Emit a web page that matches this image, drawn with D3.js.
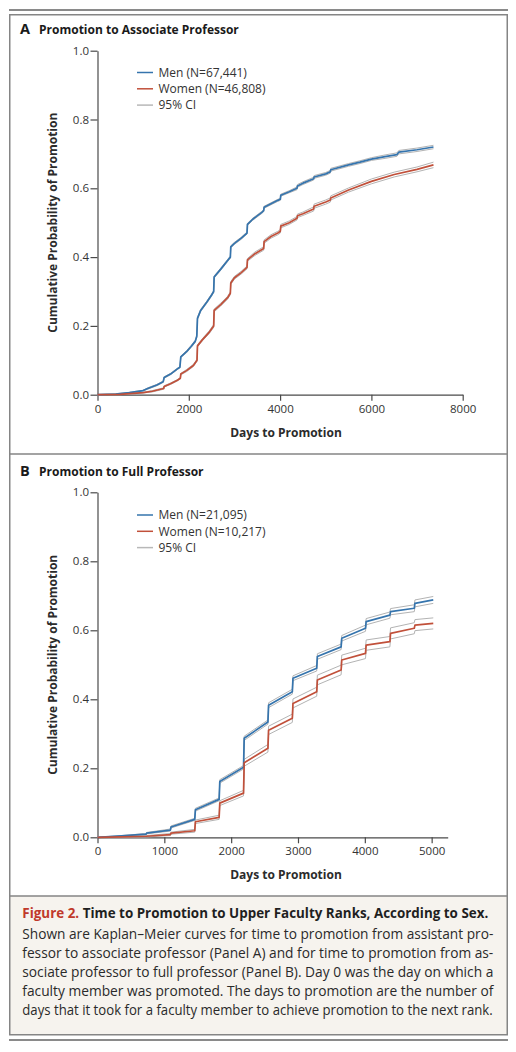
<!DOCTYPE html>
<html><head><meta charset="utf-8">
<script src="https://cdn.jsdelivr.net/npm/d3@7"></script>
<style>html,body{margin:0;padding:0;background:#fff;}svg{display:block;}</style>
</head><body>
<svg id="c" width="516" height="1052"></svg>
<script>
// ---- Data ----
// Each point: [days, cumulative probability, 95% CI half-width]
const menA = [[0,0,0],[400,0.002,0.001],[700,0.006,0.001],[1000,0.012,0.001],[1100,0.018,0.002],[1300,0.028,0.002],[1440,0.038,0.002],[1460,0.05,0.002],[1600,0.06,0.002],[1750,0.075,0.002],[1805,0.08,0.002],[1825,0.11,0.002],[1950,0.125,0.003],[2050,0.14,0.003],[2140,0.155,0.003],[2175,0.17,0.003],[2190,0.222,0.003],[2260,0.245,0.003],[2400,0.27,0.003],[2500,0.29,0.003],[2545,0.3,0.003],[2555,0.342,0.003],[2700,0.365,0.003],[2850,0.39,0.003],[2910,0.40,0.003],[2920,0.43,0.003],[3000,0.44,0.003],[3150,0.455,0.003],[3275,0.47,0.003],[3285,0.495,0.003],[3400,0.51,0.003],[3600,0.53,0.003],[3640,0.535,0.003],[3650,0.545,0.003],[3800,0.555,0.003],[3950,0.565,0.003],[4005,0.568,0.003],[4015,0.58,0.003],[4200,0.59,0.003],[4370,0.6,0.004],[4380,0.607,0.004],[4500,0.615,0.004],[4735,0.628,0.004],[4745,0.633,0.004],[5000,0.642,0.004],[5100,0.648,0.004],[5110,0.654,0.004],[5500,0.668,0.004],[5750,0.676,0.004],[6000,0.685,0.004],[6300,0.692,0.005],[6560,0.698,0.005],[6600,0.705,0.005],[7000,0.712,0.005],[7360,0.72,0.005]];
const womenA = [[0,0,0],[500,0.001,0.001],[1000,0.006,0.001],[1200,0.01,0.002],[1450,0.018,0.002],[1460,0.024,0.002],[1600,0.032,0.002],[1750,0.042,0.002],[1815,0.048,0.002],[1825,0.06,0.002],[1950,0.07,0.003],[2100,0.085,0.003],[2180,0.1,0.003],[2190,0.142,0.003],[2300,0.16,0.003],[2450,0.182,0.004],[2545,0.2,0.004],[2555,0.245,0.004],[2700,0.262,0.004],[2850,0.282,0.004],[2910,0.295,0.004],[2920,0.325,0.004],[3000,0.34,0.004],[3150,0.355,0.004],[3275,0.37,0.004],[3285,0.392,0.004],[3450,0.41,0.005],[3640,0.425,0.005],[3650,0.445,0.005],[3800,0.46,0.005],[3950,0.47,0.005],[4005,0.475,0.005],[4015,0.49,0.005],[4200,0.5,0.005],[4370,0.513,0.005],[4380,0.52,0.005],[4500,0.526,0.005],[4735,0.54,0.006],[4745,0.548,0.006],[5000,0.56,0.006],[5100,0.566,0.006],[5110,0.572,0.006],[5500,0.595,0.006],[6000,0.62,0.007],[6500,0.64,0.007],[7000,0.655,0.007],[7360,0.668,0.008]];
const menB = [[0,0,0],[360,0.004,0.001],[725,0.009,0.002],[735,0.012,0.002],[1090,0.021,0.003],[1100,0.03,0.003],[1455,0.052,0.003],[1465,0.08,0.004],[1820,0.11,0.004],[1830,0.162,0.005],[2185,0.203,0.005],[2195,0.287,0.006],[2550,0.334,0.006],[2560,0.383,0.007],[2915,0.422,0.007],[2925,0.461,0.007],[3280,0.49,0.008],[3290,0.524,0.008],[3645,0.552,0.008],[3655,0.577,0.008],[4010,0.606,0.009],[4020,0.625,0.009],[4375,0.644,0.009],[4385,0.654,0.009],[4740,0.664,0.01],[4750,0.678,0.01],[5024,0.688,0.01]];
const womenB = [[0,0,0],[365,0.001,0.001],[730,0.003,0.002],[1090,0.008,0.003],[1100,0.012,0.003],[1455,0.019,0.004],[1465,0.045,0.005],[1820,0.058,0.006],[1830,0.099,0.007],[2185,0.128,0.008],[2195,0.216,0.01],[2550,0.258,0.011],[2560,0.31,0.012],[2915,0.345,0.012],[2925,0.388,0.013],[3280,0.422,0.013],[3290,0.456,0.014],[3645,0.485,0.014],[3655,0.514,0.014],[4010,0.533,0.015],[4020,0.557,0.015],[4375,0.567,0.015],[4385,0.591,0.016],[4740,0.606,0.016],[4750,0.615,0.016],[5024,0.62,0.016]];
const yTicks = [0, 0.2, 0.4, 0.6, 0.8, 1.0];
const xTicksA = [0, 2000, 4000, 6000, 8000];
const xTicksB = [0, 1000, 2000, 3000, 4000, 5000];
const legendA = ["Men (N=67,441)", "Women (N=46,808)", "95% CI"];
const legendB = ["Men (N=21,095)", "Women (N=10,217)", "95% CI"];
const panelTitles = [["A", "Promotion to Associate Professor"], ["B", "Promotion to Full Professor"]];
const xTitle = "Days to Promotion";
const yTitle = "Cumulative Probability of Promotion";
const captionHead = ["Figure 2.", " Time to Promotion to Upper Faculty Ranks, According to Sex."];
const captionLines = [
  "Shown are Kaplan\u2013Meier curves for time to promotion from assistant pro-",
  "fessor to associate professor (Panel A) and for time to promotion from as-",
  "sociate professor to full professor (Panel B). Day 0 was the day on which a",
  "faculty member was promoted. The days to promotion are the number of",
  "days that it took for a faculty member to achieve promotion to the next rank."
];

// ---- Styles ----
const FONT = "'Open Sans', 'Noto Sans', sans-serif";
const BLUE = "#3574ad", RED = "#c1503a", CIGREY = "#b3b3b3", FRAME = "#858585", TXT = "#2b2b2b";

const svg = d3.select("#c");
svg.append("rect").attr("width", 516).attr("height", 1052).attr("fill", "#fff");

// frame
svg.append("rect").attr("x", 9).attr("y", 9).attr("width", 499).attr("height", 2).attr("fill", "#8a8a8a");
svg.append("rect").attr("x", 9.75).attr("y", 896).attr("width", 497.5).attr("height", 139).attr("fill", "#f6f3ee");
svg.append("rect").attr("x", 9.75).attr("y", 14.75).attr("width", 497.5).attr("height", 1020)
  .attr("fill", "none").attr("stroke", FRAME).attr("stroke-width", 1.5);
svg.append("line").attr("x1", 9.75).attr("x2", 507.25).attr("y1", 454).attr("y2", 454).attr("stroke", FRAME).attr("stroke-width", 1.5);
svg.append("line").attr("x1", 9.75).attr("x2", 507.25).attr("y1", 896).attr("y2", 896).attr("stroke", FRAME).attr("stroke-width", 1.5);
svg.append("rect").attr("x", 9).attr("y", 1039).attr("width", 499).attr("height", 2).attr("fill", "#8a8a8a");

function panel(cfg) {
  const x = d3.scaleLinear().domain(cfg.xDomain).range([cfg.left, cfg.right]);
  const y = d3.scaleLinear().domain([0, 1]).range([cfg.bottom, cfg.top]);
  const g = svg.append("g");

  // title
  const t = g.append("text").attr("x", 20).attr("y", cfg.titleY).attr("font-family", FONT).attr("fill", "#1a1a1a");
  t.append("tspan").attr("font-weight", 700).attr("font-size", 14.5).text(cfg.title[0]);
  t.append("tspan").attr("x", 39).attr("font-weight", 700).attr("font-size", 12).text(cfg.title[1]);

  // axes
  const ya = g.append("g").attr("transform", `translate(${cfg.left},0)`)
    .call(d3.axisLeft(y).tickValues(yTicks).tickFormat(d3.format(".1f")).tickSize(7).tickSizeOuter(0).tickPadding(1.5));
  const xa = g.append("g").attr("transform", `translate(0,${cfg.bottom})`)
    .call(d3.axisBottom(x).tickValues(cfg.xTicks).tickFormat(d3.format("d")).tickSize(6).tickSizeOuter(0).tickPadding(4));
  [ya, xa].forEach(a => {
    a.selectAll("path,line").attr("stroke", "#4a4a4a").attr("stroke-width", 1.2);
    a.selectAll("text").attr("font-family", FONT).attr("font-size", 11.5).attr("fill", "#333");
  });

  // axis titles
  g.append("text").attr("x", 286).attr("y", cfg.bottom + 42).attr("text-anchor", "middle")
    .attr("font-family", FONT).attr("font-weight", 700).attr("font-size", 12).attr("fill", TXT).text(xTitle);
  g.append("text").attr("transform", `translate(${57},${(cfg.top + cfg.bottom) / 2}) rotate(-90)`)
    .attr("text-anchor", "middle").attr("font-family", FONT).attr("font-weight", 700).attr("font-size", 12)
    .attr("fill", TXT).text(yTitle);

  const line = d3.line().x(d => x(d[0])).y(d => y(d[1]));
  const lo = d3.line().x(d => x(d[0])).y(d => y(Math.max(0, d[1] - d[2])));
  const hi = d3.line().x(d => x(d[0])).y(d => y(d[1] + d[2]));
  cfg.series.forEach(s => {
    g.append("path").attr("d", lo(s.data)).attr("fill", "none").attr("stroke", CIGREY).attr("stroke-width", 1);
    g.append("path").attr("d", hi(s.data)).attr("fill", "none").attr("stroke", CIGREY).attr("stroke-width", 1);
  });
  cfg.series.forEach(s => {
    g.append("path").attr("d", line(s.data)).attr("fill", "none").attr("stroke", s.color).attr("stroke-width", 1.7)
      .attr("stroke-linejoin", "round");
  });

  // legend
  const cols = [BLUE, RED, "#b8b8b8"];
  cfg.legend.forEach((lab, i) => {
    const ly = cfg.legendY + i * 16.3;
    g.append("line").attr("x1", 137).attr("x2", 153).attr("y1", ly).attr("y2", ly).attr("stroke", cols[i]).attr("stroke-width", 1.5);
    g.append("text").attr("x", 158.5).attr("y", ly + 4.2).attr("font-family", FONT).attr("font-size", 12)
      .attr("fill", "#333").text(lab);
  });
}

panel({ xDomain: [0, 8000], left: 97.5, right: 462.7, top: 50.7, bottom: 394.7, xTicks: xTicksA,
  title: panelTitles[0], titleY: 34, legendY: 72.5, legend: legendA,
  series: [{ data: menA, color: BLUE }, { data: womenA, color: RED }] });
panel({ xDomain: [0, 5240], left: 97.5, right: 447.7, top: 492.3, bottom: 837.3, xTicks: xTicksB,
  title: panelTitles[1], titleY: 476, legendY: 515, legend: legendB,
  series: [{ data: menB, color: BLUE }, { data: womenB, color: RED }] });

// caption
const cap = svg.append("g");
const head = cap.append("text").attr("x", 22.3).attr("y", 918).attr("font-family", FONT).attr("font-size", 14)
  .attr("font-weight", 700).attr("fill", "#1f1f1f");
head.append("tspan").attr("fill", "#c0392b").text(captionHead[0]);
head.append("tspan").text(captionHead[1]);
const hw = head.node().getComputedTextLength();
if (hw > 466) head.attr("font-size", 14 * 466 / hw);
head.attr("textLength", 466).attr("lengthAdjust", "spacing");

const texts = captionLines.map((s, i) => cap.append("text").attr("x", 22.3).attr("y", 939.3 + i * 18.9)
  .attr("font-family", FONT).attr("font-size", 14).attr("fill", "#2a2a2a").text(s));
let scale = 1;
texts.forEach((t, i) => { const w = t.node().getComputedTextLength(); const target = i === 4 ? 470.4 : 471; scale = Math.min(scale, target / w); });
texts.forEach((t, i) => {
  t.attr("font-size", 14 * Math.min(1, scale * 1.04));
  const target = i === 4 ? 470.4 : 471;
  t.attr("textLength", target).attr("lengthAdjust", "spacingAndGlyphs");
});
</script>
</body></html>
